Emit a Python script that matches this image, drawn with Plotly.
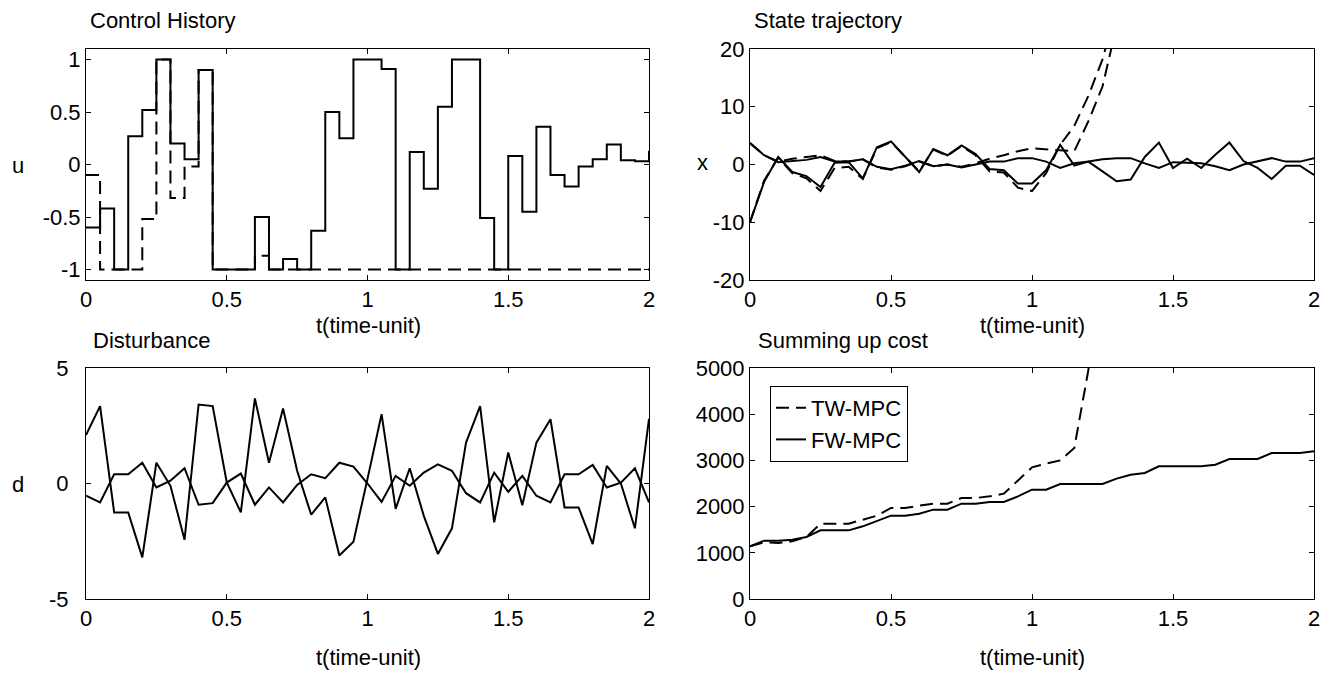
import plotly.graph_objects as go

# ---------------- data ----------------
t = [round(0.05 * i, 2) for i in range(41)]

u_fw = [-0.6, -0.42, -1, 0.27, 0.52, 1, 0.2, 0.05, 0.9, -1, -1, -1, -0.5, -1, -0.9, -1,
        -0.63, 0.5, 0.25, 1, 1, 0.91, -1, 0.12, -0.23, 0.55, 1, 1, -0.51, -1, 0.08,
        -0.45, 0.36, -0.1, -0.21, -0.02, 0.05, 0.19, 0.04, 0.03, 0.13]
u_tw = [-0.1, -1, -1, -1, -0.52, 1, -0.32, -0.02, 0.9, -1, -1, -1, -0.87] + [-1] * 28

x1_fw = [-10, -3.0, 1.3, -1.3, -2.0, -3.9, 0.3, 0.4, -2.4, 3.0, 4.0, 1.4, -1.3, 2.7, 1.6,
         3.3, 1.8, -0.8, -1.0, -3.3, -3.3, -1.0, 3.4, -0.2, 0.5, -1.2, -2.9, -2.6, 1.3,
         3.8, -0.6, 1.0, -0.6, 1.7, 3.8, 0.6, -0.6, -2.5, -0.2, -0.2, -1.8]
x2_fw = [3.7, 1.6, 0.4, 0.6, 0.8, 1.3, 0.5, 0.5, 0.9, -0.4, -0.8, -0.2, 0.6, -0.3, 0.0,
         -0.5, 0.0, 0.5, 0.5, 1.1, 1.1, 0.5, -0.6, 0.2, 0.5, 0.9, 1.1, 1.1, 0.2, -0.6,
         0.4, 0.3, 0.2, -0.3, -1.0, 0.0, 0.5, 1.1, 0.5, 0.5, 1.1]
x1_tw = [-10, -2.8, 1.2, -1.5, -2.4, -4.6, -0.6, -0.4, -2.5, 2.8, 3.9, 1.3, -1.2, 2.6,
         1.5, 3.2, 1.6, -1.2, -1.4, -4.0, -4.6, -1.5, 3.4, 6.7, 11.9, 18.2, 27]
x2_tw = [3.7, 1.6, 0.5, 1.0, 1.3, 1.6, 0.6, 0.5, 0.9, -0.5, -0.9, -0.3, 0.5, -0.3, 0.0,
         -0.4, 0.2, 1.0, 1.6, 2.3, 2.8, 2.6, 2.4, 2.3, 7.5, 13.5, 24]

d1 = [2.1, 3.35, -1.25, -1.25, -3.2, 0.9, -0.1, -2.43, 3.42, 3.35, 0.05, -1.25, 3.68, 0.9,
      3.25, 0.55, -1.35, -0.6, -3.12, -2.52, 0.2, 3.0, -1.1, 0.66, -1.4, -3.05, -1.94,
      1.77, 3.35, -1.68, 1.34, -0.94, 1.77, 2.78, -1.04, -1.04, -2.62, 0.76, 0.0, -1.94, 2.8]
d2 = [-0.53, -0.82, 0.4, 0.4, 0.9, -0.17, 0.12, 0.66, -0.92, -0.85, 0.04, 0.43, -0.92,
      -0.17, -0.82, -0.06, 0.4, 0.23, 0.9, 0.73, 0.0, -0.8, 0.33, -0.1, 0.47, 0.83, 0.55,
      -0.42, -0.82, 0.47, -0.36, 0.33, -0.53, -0.82, 0.4, 0.4, 0.8, -0.17, 0.04, 0.66, -0.82]

cost_fw = [1140, 1263, 1263, 1284, 1342, 1486, 1486, 1486, 1573, 1681, 1804, 1804, 1847,
           1934, 1934, 2063, 2063, 2100, 2100, 2222, 2366, 2366, 2489, 2489, 2489, 2489,
           2605, 2691, 2727, 2872, 2872, 2872, 2872, 2908, 3030, 3030, 3030, 3160, 3160,
           3160, 3196]
cost_tw = [1140, 1227, 1212, 1248, 1342, 1631, 1631, 1631, 1717, 1804, 1970, 1970, 2020,
           2063, 2063, 2186, 2186, 2222, 2280, 2560, 2850, 2929, 3001, 3268, 4960, 8000]

t_ticks = [0, 0.5, 1, 1.5, 2]
t_ticktext = ["0", "0.5", "1", "1.5", "2"]
u_ticks = [-1, -0.5, 0, 0.5, 1]
u_ticktext = ["-1", "-0.5", "0", "0.5", "1"]
x_ticks = [-20, -10, 0, 10, 20]
x_ticktext = ["-20", "-10", "0", "10", "20"]
d_ticks = [-5, 0, 5]
d_ticktext = ["-5", "0", "5"]
c_ticks = [0, 1000, 2000, 3000, 4000, 5000]
c_ticktext = ["0", "1000", "2000", "3000", "4000", "5000"]

# ---------------- layout helpers ----------------
OFF = 8                      # default page body margin
W, H = 1339 - OFF, 675 - OFF  # figure size that fits in the window
FONT = "Arial, Liberation Sans, sans-serif"
FS = 22
DASH = "13px,7px"


def px2x(p):
    return (p - OFF) / W


def px2y(p):
    return 1 - (p - OFF) / H


def dx(a, b):
    return [px2x(a), px2x(b)]


def dy(top, bottom):
    return [px2y(bottom), px2y(top)]


fig = go.Figure()

solid = dict(color="black", width=2)
dashed = dict(color="black", width=2, dash=DASH)

# Control history
fig.add_trace(go.Scatter(x=t, y=u_tw, mode="lines", line=dashed, line_shape="hv",
                         xaxis="x", yaxis="y", showlegend=False))
fig.add_trace(go.Scatter(x=t, y=u_fw, mode="lines", line=solid, line_shape="hv",
                         xaxis="x", yaxis="y", showlegend=False))

# State trajectory
n_tw = len(x1_tw)
fig.add_trace(go.Scatter(x=t[:n_tw], y=x1_tw, mode="lines", line=dashed,
                         xaxis="x2", yaxis="y2", showlegend=False))
fig.add_trace(go.Scatter(x=t[:n_tw], y=x2_tw, mode="lines", line=dashed,
                         xaxis="x2", yaxis="y2", showlegend=False))
fig.add_trace(go.Scatter(x=t, y=x1_fw, mode="lines", line=solid,
                         xaxis="x2", yaxis="y2", showlegend=False))
fig.add_trace(go.Scatter(x=t, y=x2_fw, mode="lines", line=solid,
                         xaxis="x2", yaxis="y2", showlegend=False))

# Disturbance
fig.add_trace(go.Scatter(x=t, y=d1, mode="lines", line=solid,
                         xaxis="x3", yaxis="y3", showlegend=False))
fig.add_trace(go.Scatter(x=t, y=d2, mode="lines", line=solid,
                         xaxis="x3", yaxis="y3", showlegend=False))

# Cost
fig.add_trace(go.Scatter(x=t[:len(cost_tw)], y=cost_tw, mode="lines", line=dashed,
                         xaxis="x4", yaxis="y4", name="TW-MPC"))
fig.add_trace(go.Scatter(x=t, y=cost_fw, mode="lines", line=solid,
                         xaxis="x4", yaxis="y4", name="FW-MPC"))

axis_common = dict(showline=True, linecolor="black", linewidth=1, mirror="ticks",
                   ticks="inside", ticklen=5, tickcolor="black", tickwidth=1,
                   showgrid=False, zeroline=False, automargin=False,
                   tickfont=dict(family=FONT, size=FS, color="black"))

xa = dict(axis_common, range=[0, 2], tickvals=t_ticks, ticktext=t_ticktext)

fig.update_layout(
    width=W, height=H,
    margin=dict(l=0, r=0, t=0, b=0),
    paper_bgcolor="white", plot_bgcolor="white",
    font=dict(family=FONT, size=FS, color="black"),
    xaxis=dict(xa, domain=dx(86, 649), anchor="y"),
    yaxis=dict(axis_common, domain=dy(49, 280), anchor="x", range=[-1.1, 1.1],
               tickvals=u_ticks, ticktext=u_ticktext),
    xaxis2=dict(xa, domain=dx(750, 1314), anchor="y2"),
    yaxis2=dict(axis_common, domain=dy(49, 280), anchor="x2", range=[-20, 20],
                tickvals=x_ticks, ticktext=x_ticktext),
    xaxis3=dict(xa, domain=dx(86, 649), anchor="y3"),
    yaxis3=dict(axis_common, domain=dy(368, 599), anchor="x3", range=[-5, 5],
                tickvals=d_ticks, ticktext=d_ticktext, ticklabelstandoff=12),
    xaxis4=dict(xa, domain=dx(750, 1314), anchor="y4"),
    yaxis4=dict(axis_common, domain=dy(368, 599), anchor="x4", range=[0, 5000],
                tickvals=c_ticks, ticktext=c_ticktext),
    legend=dict(x=px2x(770), y=px2y(386), xanchor="left", yanchor="top",
                bgcolor="white", bordercolor="black", borderwidth=1,
                entrywidth=140, entrywidthmode="pixels",
                font=dict(family=FONT, size=FS, color="black"), traceorder="normal"),
)

annos = [
    ("Control History", 88, 20, "left"),
    ("State trajectory", 752, 20, "left"),
    ("Disturbance", 91, 340, "left"),
    ("Summing up cost", 756, 340, "left"),
    ("u", 18, 165, "center"),
    ("x", 702, 162, "center"),
    ("d", 18, 484, "center"),
    ("t(time-unit)", 368, 326, "center"),
    ("t(time-unit)", 1032, 326, "center"),
    ("t(time-unit)", 368, 657, "center"),
    ("t(time-unit)", 1032, 657, "center"),
]
for text, px, py, anchor in annos:
    fig.add_annotation(text=text, x=px2x(px), y=px2y(py), xref="paper", yref="paper",
                       xanchor=anchor, yanchor="middle", showarrow=False,
                       font=dict(family=FONT, size=FS, color="black"))

fig.write_html("out.html")
